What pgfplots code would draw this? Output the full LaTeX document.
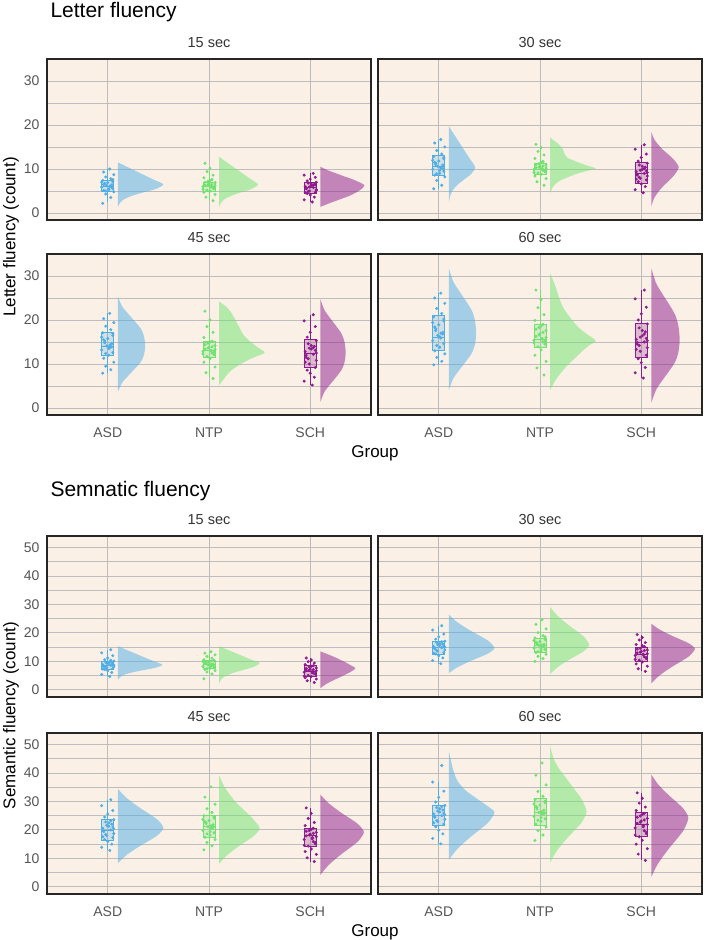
\documentclass[border=0pt]{standalone}
\usepackage{fontspec}
\setmainfont{Liberation Sans}
\usepackage{pgfplots}
\usepackage{pgfplotstable}
\usepgfplotslibrary{statistics}
\pgfplotsset{compat=1.18}

\definecolor{panelbg}{HTML}{FAF0E6}
\definecolor{gridc}{HTML}{BDBDBD}
\definecolor{tickc}{HTML}{555555}
\definecolor{stripc}{HTML}{333333}
\definecolor{asd}{HTML}{4FAEE6}
\definecolor{ntp}{HTML}{6EE36E}
\definecolor{sch}{HTML}{8E1B8E}

% individual scores: jitter offsets, then one column per group and time
\pgfplotstableread{
jA jB jC a15 n15 s15 a30 n30 s30 a45 n45 s45 a60 n60 s60
-0.05 0.04 0.02 2.2 2.8 2.5 5.5 6.3 4.6 7.9 6.7 5.2 9.8 7.5 6.8
0.03 -0.03 -0.06 3.5 3.6 3.0 6.3 7.1 5.3 8.7 8.0 6.1 10.6 9.1 8.0
-0.02 0.06 0.04 4.3 4.2 3.6 7.4 7.8 6.0 9.5 9.3 7.0 11.5 10.6 9.2
0.06 -0.05 0.00 4.8 4.7 4.1 8.2 8.4 6.6 10.4 10.4 7.9 12.3 12.0 10.3
-0.04 0.01 -0.03 5.1 5.0 4.4 8.6 8.8 7.1 11.3 11.2 8.6 13.0 13.2 11.2
0.01 -0.02 0.05 5.3 5.2 4.7 9.0 9.1 7.5 12.0 11.7 9.2 13.8 13.9 12.0
0.05 0.05 -0.01 5.6 5.5 5.0 9.5 9.4 7.9 12.6 12.1 10.0 14.6 14.5 12.9
-0.06 0.03 0.06 5.9 5.8 5.3 9.9 9.7 8.4 13.2 12.5 10.8 15.3 15.0 13.7
0.02 -0.06 -0.04 6.0 6.0 5.6 10.3 9.9 8.8 13.7 12.9 11.5 15.9 15.4 14.5
-0.01 0.02 0.03 6.2 6.1 5.8 10.6 10.1 9.0 14.1 13.1 12.2 16.5 15.8 15.0
0.04 -0.04 -0.05 6.4 6.3 6.0 10.9 10.3 9.4 14.6 13.4 12.8 17.2 16.3 15.6
-0.03 0.00 0.01 6.7 6.6 6.2 11.3 10.6 9.9 15.2 13.8 13.4 18.0 16.9 16.4
0.00 0.06 0.04 6.9 6.9 6.5 11.8 10.9 10.4 15.8 14.2 14.0 18.9 17.6 17.3
0.05 -0.01 -0.02 7.1 7.2 6.8 12.3 11.2 10.9 16.5 14.7 14.6 19.8 18.3 18.2
-0.05 0.03 0.06 7.4 7.6 7.0 12.8 11.7 11.3 17.1 15.2 15.3 20.7 19.0 19.1
0.03 -0.05 -0.03 7.8 8.0 7.3 13.4 12.4 11.8 17.8 16.0 16.1 21.5 19.9 20.0
-0.02 0.04 0.00 8.2 8.6 7.7 14.2 13.2 12.6 18.6 17.2 17.2 22.6 21.2 21.4
0.06 -0.02 0.05 8.7 9.4 8.1 15.0 14.0 13.4 19.4 18.5 18.5 23.8 22.8 22.9
-0.04 0.01 -0.06 9.3 10.2 8.6 15.9 14.9 14.5 20.3 20.0 19.8 25.0 24.6 24.8
0.02 -0.04 0.03 10.0 11.3 9.0 16.7 15.6 15.5 21.5 22.0 21.2 26.1 26.8 26.8
0.01 0.05 -0.02 5.4 5.7 4.9 9.7 9.6 8.1 13.5 12.7 11.2 16.2 15.2 14.2
-0.03 -0.01 0.05 6.6 6.4 6.4 11.0 10.4 9.6 14.8 13.6 13.1 17.6 16.6 15.8
0.04 0.02 -0.04 5.8 5.9 5.5 10.1 10.0 8.6 13.9 13.0 12.0 16.8 15.6 14.9
-0.06 -0.04 0.01 7.0 7.0 6.6 12.0 11.0 10.6 16.1 14.4 14.2 19.4 17.9 17.6
0.02 0.06 0.06 6.1 6.2 5.2 10.4 10.2 9.2 14.3 13.3 12.5 17.0 16.0 15.3
-0.02 -0.06 -0.05 5.0 5.4 4.6 8.9 9.2 7.7 12.4 12.3 10.4 14.2 14.8 13.3
0.05 0.01 0.03 7.6 7.4 6.3 12.6 11.5 10.1 16.9 15.0 13.7 20.2 18.6 16.8
-0.04 0.03 -0.01 6.5 6.5 5.9 11.5 10.7 9.7 15.5 13.9 13.6 18.4 17.2 16.1
}\Lpts

\pgfplotstableread{
jA jB jC a15 n15 s15 a30 n30 s30 a45 n45 s45 a60 n60 s60
-0.05 0.04 0.02 4.7 3.9 2.6 9.2 10.0 6.5 12.8 13.0 8.9 15.1 16.3 9.3
0.03 -0.03 -0.06 5.4 5.6 3.2 10.3 11.0 7.4 13.9 14.4 10.2 17.0 18.2 11.5
-0.02 0.06 0.04 6.1 6.3 3.8 11.2 11.8 8.3 15.0 15.6 11.4 18.6 19.8 13.4
0.06 -0.05 0.00 6.7 6.8 4.3 12.0 12.5 9.1 15.9 16.6 12.4 19.9 21.0 15.0
-0.04 0.01 -0.03 7.1 7.2 4.7 12.6 13.1 9.8 16.6 17.4 13.3 21.1 22.0 16.4
0.01 -0.02 0.05 7.5 7.6 5.1 13.1 13.7 10.4 17.3 18.2 14.3 22.0 23.0 17.6
0.05 0.05 -0.01 7.8 7.9 5.5 13.6 14.2 11.0 18.0 19.0 15.1 22.9 23.9 18.7
-0.06 0.03 0.06 8.1 8.2 5.9 14.0 14.7 11.6 18.7 19.8 15.9 23.7 24.8 19.7
0.02 -0.06 -0.04 8.4 8.5 6.2 14.4 15.2 12.1 19.4 20.5 16.6 24.4 25.5 20.7
-0.01 0.02 0.03 8.6 8.8 6.5 14.8 15.6 12.5 20.0 21.1 17.3 25.0 26.1 21.6
0.04 -0.04 -0.05 8.9 9.1 6.9 15.2 16.0 13.0 20.6 21.8 17.9 25.6 26.9 22.3
-0.03 0.00 0.01 9.2 9.4 7.3 15.6 16.5 13.5 21.3 22.5 18.5 26.3 27.8 23.1
0.00 0.06 0.04 9.5 9.8 7.7 16.1 17.0 14.0 22.0 23.3 19.1 27.0 28.7 24.0
0.05 -0.01 -0.02 9.8 10.2 8.1 16.6 17.6 14.6 22.8 24.1 19.8 27.8 29.6 24.9
-0.05 0.03 0.06 10.1 10.6 8.5 17.1 18.2 15.2 23.6 25.0 20.6 28.6 30.6 25.8
0.03 -0.05 -0.03 10.6 11.1 8.9 17.8 19.0 15.9 24.5 26.1 21.5 29.8 31.8 26.8
-0.02 0.04 0.00 11.2 11.7 9.4 18.6 20.1 16.6 25.6 27.4 22.6 31.4 33.5 28.0
0.06 -0.02 0.05 12.0 12.3 9.9 19.6 21.4 17.5 26.8 29.0 24.0 33.6 35.8 29.4
-0.04 0.01 -0.06 13.0 12.9 10.5 21.0 23.0 18.4 28.5 31.5 25.8 36.8 39.2 31.1
0.02 -0.04 0.03 14.1 13.4 11.2 22.5 24.6 19.4 30.6 35.1 27.7 42.6 43.5 33.0
0.01 0.05 -0.02 7.9 8.0 5.7 13.8 14.4 11.3 18.4 19.4 15.5 23.3 24.3 19.2
-0.03 -0.01 0.05 9.0 9.6 7.0 15.4 16.2 13.2 21.0 22.2 18.2 25.9 27.3 22.7
0.04 0.02 -0.04 8.2 8.6 6.0 14.6 15.0 12.3 19.7 20.8 16.9 24.7 25.8 21.1
-0.06 -0.04 0.01 9.7 10.0 7.5 16.3 17.3 14.3 22.4 23.7 19.5 27.4 29.1 24.4
0.02 0.06 0.06 8.7 9.0 6.7 15.0 15.8 12.7 20.3 21.4 17.6 25.3 26.5 21.9
-0.02 -0.06 -0.05 7.3 7.4 4.9 12.9 13.4 10.7 17.6 18.6 14.6 22.5 23.4 18.2
0.05 0.01 0.03 10.4 10.4 8.3 16.9 18.6 15.5 23.2 24.6 20.2 28.2 30.1 25.4
-0.04 0.03 -0.01 9.3 9.2 7.1 15.8 16.7 13.8 21.6 22.9 18.8 26.6 28.2 23.5
}\Spts

\pgfplotsset{
  panel/.style={
    scale only axis, width=324pt, height=161pt,
    xmin=0.4, xmax=3.6, xtick={1,2,3},
    axis background/.style={fill=panelbg},
    xmajorgrids, ymajorgrids, yminorgrids,
    major grid style={draw=gridc, line width=0.8pt},
    minor grid style={draw=gridc, line width=0.8pt},
    axis line style={draw=black!85, line width=1.2pt},
    major tick length=0pt, minor tick length=0pt,
    tick label style={font=\fontsize{14}{14}\selectfont, text=tickc},
    /pgf/number format/assume math mode=true,
    yticklabel style={anchor=east, xshift=-4pt},
    xticklabel style={anchor=base, yshift=-22pt},
    title style={at={(0.5,1)}, anchor=base, yshift=6pt,
      font=\fontsize{14.5}{15}\selectfont, text=stripc},
  },
  letter/.style={ymin=-1.6, ymax=35, ytick={0,10,20,30}, minor ytick={5,15,25}},
  sem/.style={ymin=-2.5, ymax=54, ytick={0,10,20,30,40,50}, minor ytick={5,15,25,35,45}},
  toprow/.style={xticklabels={}},
  botrow/.style={xticklabels={ASD,NTP,SCH}},
  rightcol/.style={yticklabels={}},
  vio/.style={draw=none, fill=#1, fill opacity=0.5, smooth, tension=0.45},
  drop/.style={only marks, mark=*, mark size=1.3pt, color=#1},
  bxs/.style={draw=#1, fill=#1, fill opacity=0.25, line width=0.75pt,
    boxplot/draw direction=y, boxplot/box extend=0.12, boxplot/whisker extend=0},
}

% jittered points of one group
\newcommand\drops[5]{\addplot[drop=#1] table[x expr=\thisrow{#5}+#2, y=#4] {#3};}
% box of one group from its five statistics
\newcommand\bx[3]{\addplot[bxs=#1, boxplot prepared={draw position=#2, #3}] coordinates {};}

\begin{document}
\begin{tikzpicture}
\useasboundingbox (0pt,0pt) rectangle (704pt,-940pt);

% ---------------- Letter fluency ----------------
\node[anchor=base west, font=\fontsize{21}{21}\selectfont] at (47pt,-17pt) {Letter fluency};
\node[rotate=90, anchor=base, font=\fontsize{17}{17}\selectfont] at (15.5pt,-237pt) {Letter fluency (count)};
\node[anchor=base, font=\fontsize{17}{17}\selectfont] at (375pt,-457pt) {Group};

\begin{axis}[panel, letter, toprow, at={(47pt,-220pt)}, anchor=south west, title={15 sec}]
\addplot[vio=asd] coordinates {(1.1,1.4) (1.125,2.42) (1.167,3.19) (1.246,3.95) (1.359,4.72) (1.476,5.48) (1.55,6.5) (1.46,7.5) (1.393,8.25) (1.325,9.0) (1.258,9.75) (1.19,10.5) (1.1,11.5)};
\addplot[vio=ntp] coordinates {(2.1,1.4) (2.122,2.42) (2.157,3.19) (2.225,3.95) (2.322,4.72) (2.421,5.48) (2.485,6.5) (2.408,7.75) (2.35,8.69) (2.293,9.63) (2.235,10.56) (2.177,11.5) (2.1,12.75)};
\addplot[vio=sch] coordinates {(3.1,1.4) (3.209,2.38) (3.296,3.12) (3.383,3.85) (3.448,4.59) (3.5,5.32) (3.535,6.3) (3.47,7.14) (3.405,7.77) (3.326,8.4) (3.252,9.03) (3.178,9.66) (3.1,10.5)};
\drops{asd}{1}{\Lpts}{a15}{jA}
\drops{ntp}{2}{\Lpts}{n15}{jB}
\drops{sch}{3}{\Lpts}{s15}{jC}
\bx{asd}{1}{lower whisker=2.5, lower quartile=5, median=6, upper quartile=7.5, upper whisker=10}
\bx{ntp}{2}{lower whisker=3, lower quartile=5, median=6, upper quartile=7, upper whisker=10.2}
\bx{sch}{3}{lower whisker=2.5, lower quartile=4.5, median=5.8, upper quartile=7, upper whisker=9}
\end{axis}

\begin{axis}[panel, letter, toprow, rightcol, at={(378pt,-220pt)}, anchor=south west, title={30 sec}]
\addplot[vio=asd] coordinates {(1.1,2.4) (1.115,4.0) (1.139,5.2) (1.185,6.4) (1.25,7.6) (1.317,8.8) (1.36,10.4) (1.308,12.26) (1.269,13.66) (1.23,15.05) (1.191,16.45) (1.152,17.84) (1.1,19.7)};
\addplot[vio=ntp] coordinates {(2.1,4.4) (2.118,5.54) (2.145,6.4) (2.19,7.25) (2.271,8.1) (2.37,8.96) (2.46,9.53) (2.55,10.1) (2.46,10.8) (2.379,11.5) (2.271,12.55) (2.24,13.6) (2.222,14.65) (2.181,15.7) (2.1,17.1)};
\addplot[vio=sch] coordinates {(3.1,1.6) (3.127,3.36) (3.165,4.68) (3.213,6.0) (3.273,7.32) (3.327,8.64) (3.37,10.4) (3.327,12.0) (3.273,13.2) (3.213,14.4) (3.165,15.6) (3.127,16.8) (3.1,18.4)};
\drops{asd}{1}{\Lpts}{a30}{jA}
\drops{ntp}{2}{\Lpts}{n30}{jB}
\drops{sch}{3}{\Lpts}{s30}{jC}
\bx{asd}{1}{lower whisker=5.5, lower quartile=8.5, median=10.5, upper quartile=13, upper whisker=16.7}
\bx{ntp}{2}{lower whisker=6.3, lower quartile=8.8, median=10, upper quartile=11.2, upper whisker=14.9}
\bx{sch}{3}{lower whisker=4.6, lower quartile=6.8, median=9, upper quartile=11.5, upper whisker=15.5}
\end{axis}

\begin{axis}[panel, letter, botrow, at={(47pt,-415pt)}, anchor=south west, title={45 sec}]
\addplot[vio=asd] coordinates {(1.1,3.7) (1.143,5.78) (1.203,7.34) (1.267,8.9) (1.327,10.46) (1.357,12.02) (1.37,14.1) (1.357,16.34) (1.327,18.02) (1.267,19.7) (1.203,21.38) (1.143,23.06) (1.1,25.3)};
\addplot[vio=ntp] coordinates {(2.1,5.2) (2.15,6.68) (2.186,7.79) (2.24,8.9) (2.316,10.01) (2.406,11.12) (2.483,11.86) (2.55,12.6) (2.483,13.76) (2.415,14.92) (2.339,16.66) (2.298,18.4) (2.258,20.14) (2.213,21.88) (2.168,23.04) (2.1,24.2)};
\addplot[vio=sch] coordinates {(3.1,1.4) (3.14,3.64) (3.195,5.32) (3.255,7.0) (3.31,8.68) (3.338,10.36) (3.35,12.6) (3.338,15.02) (3.31,16.84) (3.255,18.65) (3.195,20.47) (3.14,22.28) (3.1,24.7)};
\drops{asd}{1}{\Lpts}{a45}{jA}
\drops{ntp}{2}{\Lpts}{n45}{jB}
\drops{sch}{3}{\Lpts}{s45}{jC}
\bx{asd}{1}{lower whisker=7.9, lower quartile=12, median=14.1, upper quartile=17.1, upper whisker=21.5}
\bx{ntp}{2}{lower whisker=7, lower quartile=11.5, median=13, upper quartile=15.1, upper whisker=20}
\bx{sch}{3}{lower whisker=5.2, lower quartile=9.2, median=12.5, upper quartile=15.6, upper whisker=21.2}
\end{axis}

\begin{axis}[panel, letter, botrow, rightcol, at={(378pt,-415pt)}, anchor=south west, title={60 sec}]
\addplot[vio=asd] coordinates {(1.1,4.1) (1.143,6.68) (1.203,8.62) (1.267,10.55) (1.327,12.49) (1.357,14.42) (1.37,17.0) (1.357,19.94) (1.327,22.15) (1.267,24.35) (1.203,26.56) (1.143,28.76) (1.1,31.7)};
\addplot[vio=ntp] coordinates {(2.1,4.1) (2.154,6.34) (2.208,8.02) (2.271,9.7) (2.348,11.38) (2.424,13.06) (2.483,14.18) (2.55,15.3) (2.46,16.83) (2.379,18.36) (2.294,20.66) (2.226,22.95) (2.186,25.25) (2.154,27.54) (2.1,30.6)};
\addplot[vio=sch] coordinates {(3.1,1.2) (3.145,4.06) (3.206,6.21) (3.274,8.35) (3.335,10.5) (3.366,12.64) (3.38,15.5) (3.366,18.74) (3.335,21.17) (3.274,23.6) (3.206,26.03) (3.145,28.46) (3.1,31.7)};
\drops{asd}{1}{\Lpts}{a60}{jA}
\drops{ntp}{2}{\Lpts}{n60}{jB}
\drops{sch}{3}{\Lpts}{s60}{jC}
\bx{asd}{1}{lower whisker=9.8, lower quartile=13, median=16, upper quartile=21, upper whisker=26.1}
\bx{ntp}{2}{lower whisker=9, lower quartile=13.7, median=15.6, upper quartile=18.9, upper whisker=26.8}
\bx{sch}{3}{lower whisker=6.8, lower quartile=11.5, median=15, upper quartile=19.2, upper whisker=26.8}
\end{axis}

% ---------------- Semantic fluency ----------------
\node[anchor=base west, font=\fontsize{21}{21}\selectfont] at (47pt,-496pt) {Semnatic fluency};
\node[rotate=90, anchor=base, font=\fontsize{17}{17}\selectfont] at (15.5pt,-715.5pt) {Semantic fluency (count)};
\node[anchor=base, font=\fontsize{17}{17}\selectfont] at (375pt,-936pt) {Group};

\begin{axis}[panel, sem, toprow, at={(47pt,-697pt)}, anchor=south west, title={15 sec}]
\addplot[vio=asd] coordinates {(1.1,3.5) (1.125,4.56) (1.166,5.36) (1.243,6.15) (1.353,6.95) (1.467,7.74) (1.54,8.8) (1.452,10.1) (1.386,11.08) (1.32,12.05) (1.254,13.03) (1.188,14.0) (1.1,15.3)};
\addplot[vio=ntp] coordinates {(2.1,2.3) (2.122,3.72) (2.16,4.79) (2.23,5.85) (2.33,6.92) (2.434,7.98) (2.5,9.4) (2.42,10.58) (2.36,11.47) (2.3,12.35) (2.24,13.24) (2.18,14.12) (2.1,15.3)};
\addplot[vio=sch] coordinates {(3.1,0.6) (3.155,2.0) (3.21,3.05) (3.273,4.1) (3.335,5.15) (3.393,6.2) (3.445,7.6) (3.393,8.78) (3.348,9.67) (3.297,10.55) (3.245,11.44) (3.186,12.32) (3.1,13.5)};
\drops{asd}{1}{\Spts}{a15}{jC}
\drops{ntp}{2}{\Spts}{n15}{jA}
\drops{sch}{3}{\Spts}{s15}{jB}
\bx{asd}{1}{lower whisker=4.7, lower quartile=7.3, median=8.5, upper quartile=10, upper whisker=14.1}
\bx{ntp}{2}{lower whisker=5.6, lower quartile=7.4, median=8.8, upper quartile=10.5, upper whisker=13.4}
\bx{sch}{3}{lower whisker=2.6, lower quartile=4.7, median=6.5, upper quartile=8.5, upper whisker=11.2}
\end{axis}

\begin{axis}[panel, sem, toprow, rightcol, at={(378pt,-697pt)}, anchor=south west, title={30 sec}]
\addplot[vio=asd] coordinates {(1.1,5.9) (1.172,7.66) (1.244,8.98) (1.325,10.3) (1.415,11.62) (1.496,12.94) (1.55,14.7) (1.496,17.04) (1.415,18.8) (1.325,20.55) (1.244,22.31) (1.172,24.06) (1.1,26.4)};
\addplot[vio=ntp] coordinates {(2.1,5.6) (2.162,7.64) (2.223,9.17) (2.293,10.7) (2.37,12.23) (2.439,13.76) (2.485,15.8) (2.439,18.46) (2.37,20.46) (2.293,22.45) (2.223,24.45) (2.162,26.44) (2.1,29.1)};
\addplot[vio=sch] coordinates {(3.1,2.3) (3.169,4.72) (3.238,6.54) (3.315,8.35) (3.401,10.17) (3.478,11.98) (3.53,14.4) (3.478,16.16) (3.401,17.48) (3.315,18.8) (3.238,20.12) (3.169,21.44) (3.1,23.2)};
\drops{asd}{1}{\Spts}{a30}{jC}
\drops{ntp}{2}{\Spts}{n30}{jA}
\drops{sch}{3}{\Spts}{s30}{jB}
\bx{asd}{1}{lower whisker=9.2, lower quartile=12.6, median=14.8, upper quartile=17, upper whisker=22.5}
\bx{ntp}{2}{lower whisker=10, lower quartile=13, median=15.6, upper quartile=18.2, upper whisker=24.6}
\bx{sch}{3}{lower whisker=6.5, lower quartile=10, median=12.5, upper quartile=15, upper whisker=19.4}
\end{axis}

\begin{axis}[panel, sem, botrow, at={(47pt,-894pt)}, anchor=south west, title={45 sec}]
\addplot[vio=asd] coordinates {(1.1,8.3) (1.172,10.78) (1.244,12.64) (1.325,14.5) (1.415,16.36) (1.496,18.22) (1.55,20.7) (1.496,23.44) (1.415,25.5) (1.325,27.55) (1.244,29.61) (1.172,31.66) (1.1,34.4)};
\addplot[vio=ntp] coordinates {(2.1,8.1) (2.164,10.62) (2.228,12.51) (2.3,14.4) (2.38,16.29) (2.452,18.18) (2.5,20.7) (2.42,24.38) (2.34,27.14) (2.26,29.9) (2.2,32.66) (2.148,35.42) (2.1,39.1)};
\addplot[vio=sch] coordinates {(3.1,4.2) (3.169,7.2) (3.238,9.45) (3.315,11.7) (3.401,13.95) (3.478,16.2) (3.53,19.2) (3.478,21.84) (3.401,23.82) (3.315,25.8) (3.238,27.78) (3.169,29.76) (3.1,32.4)};
\drops{asd}{1}{\Spts}{a45}{jC}
\drops{ntp}{2}{\Spts}{n45}{jA}
\drops{sch}{3}{\Spts}{s45}{jB}
\bx{asd}{1}{lower whisker=12.8, lower quartile=16.2, median=20, upper quartile=23.6, upper whisker=30.6}
\bx{ntp}{2}{lower whisker=13, lower quartile=17.2, median=21.1, upper quartile=25, upper whisker=31.5}
\bx{sch}{3}{lower whisker=8.9, lower quartile=14.2, median=18, upper quartile=20.7, upper whisker=27.7}
\end{axis}

\begin{axis}[panel, sem, botrow, rightcol, at={(378pt,-894pt)}, anchor=south west, title={60 sec}]
\addplot[vio=asd] coordinates {(1.1,9.5) (1.172,12.84) (1.244,15.35) (1.325,17.85) (1.415,20.36) (1.496,22.86) (1.55,26.2) (1.483,28.34) (1.397,30.48) (1.271,33.69) (1.19,36.9) (1.15,40.11) (1.127,43.32) (1.1,47.6)};
\addplot[vio=ntp] coordinates {(2.1,8.6) (2.158,12.18) (2.215,14.87) (2.28,17.55) (2.352,20.24) (2.417,22.92) (2.46,26.5) (2.406,31.08) (2.334,34.52) (2.262,37.95) (2.19,41.39) (2.136,44.82) (2.1,49.4)};
\addplot[vio=sch] coordinates {(3.1,3.6) (3.158,7.72) (3.217,10.81) (3.283,13.9) (3.356,16.99) (3.421,20.08) (3.465,24.2) (3.421,27.24) (3.356,29.52) (3.283,31.8) (3.217,34.08) (3.158,36.36) (3.1,39.4)};
\drops{asd}{1}{\Spts}{a60}{jC}
\drops{ntp}{2}{\Spts}{n60}{jA}
\drops{sch}{3}{\Spts}{s60}{jB}
\bx{asd}{1}{lower whisker=15.1, lower quartile=21.5, median=25, upper quartile=28.5, upper whisker=36.8}
\bx{ntp}{2}{lower whisker=16.3, lower quartile=21.5, median=26.1, upper quartile=30.9, upper whisker=39.2}
\bx{sch}{3}{lower whisker=9.3, lower quartile=17.7, median=22, upper quartile=26.2, upper whisker=33}
\end{axis}
\end{tikzpicture}
\end{document}
